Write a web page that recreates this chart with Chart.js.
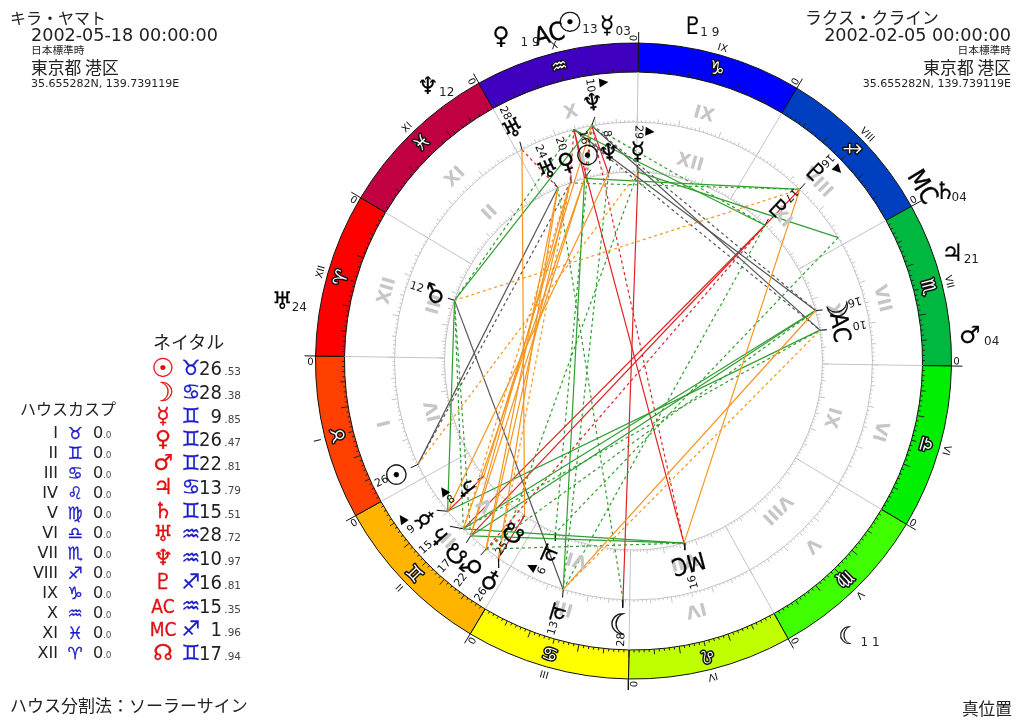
<!DOCTYPE html>
<html lang="ja">
<head>
<meta charset="utf-8">
<title>ホロスコープ</title>
<script src="https://cdn.jsdelivr.net/npm/chart.js@4"></script>
<style>
  html, body { margin: 0; padding: 0; background: #fff; }
  #page { position: relative; width: 1024px; height: 723px; overflow: hidden; }
  canvas { position: absolute; left: 0; top: 0; }
  .t { position: absolute; white-space: pre; line-height: 1; color: #222; font-family: "DejaVu Sans", sans-serif; transform: translateY(-50%); }
  .jp { font-family: "Noto Sans CJK JP", sans-serif; }
</style>
</head>
<body>
<div id="page">
  <canvas id="ringChart" width="1024" height="723"></canvas>
  <canvas id="wheelChart" width="1024" height="723"></canvas>
</div>
<script>
// 星座
const signGlyphs = ['♈','♉','♊','♋','♌','♍','♎','♏','♐','♑','♒','♓'];
const signColors = ['#ff0000','#ff4000','#ffb400','#ffff00','#bfff00','#40ff00','#00ee00','#00b840','#0040c0','#0000ff','#4000c0','#c00040'];
const signSpan = [30,30,30,30,30,30,30,30,30,30,30,30];
const houseNames = ['I','II','III','IV','V','VI','VII','VIII','IX','X','XI','XII'];

// ネイタル (キラ・ヤマト)
const pointKeys = ['Su','Mo','Me','Ve','Ma','Ju','Sa','Ur','Ne','Pl','AC','MC','No'];
const pointGlyphs = ['☉','☽','☿','♀','♂','♃','♄','♅','♆','♇','AC','MC','☊'];
const natalSign = [1,3,2,2,2,3,2,10,10,8,10,8,2];
const natalDeg = [26.53,28.38,9.85,26.47,22.81,13.79,15.51,28.72,10.97,16.81,15.35,1.96,17.94];
// 重なり回避後の表示位置 (AC, MC は外側)
const natalShown = [56.5,118.4,68.1,87.8,82.7,104.2,72.9,328.3,309.9,256.9,null,null,78.3];
const natalRetro = ['Me','Ne','Pl'];

// ラクス・クライン
const partnerLon = [315.9,226.4,299.5,320.5,12.2,96.5,68.5,324.5,308.5,256.8,220.3,136.4,85.7];
const partnerShown = [313.5,226,299.7,319.5,12.2,97.4,68.2,324.9,307.6,257.4,220.1,136.1,85.9];
const partnerLabel = [16,16,29,20,12,6,8,24,8,17,10,16,25];
const partnerRetro = ['Me','Ju','Sa'];

// 一番外側の天体
const outerGlyphs = ['♀','☉','☿','♇','♄','♃','♂','☾','♅','♆'];
const outerShown = [323.2,311.6,305.4,290.8,239.2,229.3,215,158.8,21.5,337.9];
const outerLabel = ['1 9','13','03','1 9','04','21','04','1 1','24','12'];

// アスペクト [ネイタル, 相手, 広いオーブなら1]
const trines = [['Su','Me',1],['Me','Ne',0],['Ve','Ve',1],['Ve','Ur',0],['Ma','Ve',0],['Ma','Ur',0],['Ju','Mo',0],['Ju','AC',1],['Sa','Su',0],['Sa','Ve',1],['Ur','No',0],['Ne','Sa',0],['Pl','Ma',1],['Pl','MC',0],['No','Su',0],['No','Ve',0]];
const sextiles = [['Me','Ma',0],['Me','AC',0],['Ve','Me',1],['Ma','Mo',1],['Ma','MC',1],['Mo','Ur',1],['Ju','Su',0],['Ju','Ne',1],['Ju','Pl',1],['Sa','Mo',0],['Sa','Ma',1],['Sa','AC',1],['Sa','MC',0],['Ne','Ma',0],['Ne','Ju',1],['Ne','Pl',1],['Pl','Su',0],['Pl','Ve',1],['AC','Ma',1],['AC','Pl',0],['MC','Me',0],['MC','Ju',1],['No','Mo',0],['No','Ma',1],['No','MC',0]];
const squares = [['Su','Ve',1],['Su','Ur',0],['Ju','Ma',0],['Ne','Mo',1],['Ne','AC',0],['AC','Mo',0],['AC','AC',1]];
const oppositions = [['Mo','Me',0],['Me','Sa',0],['Ve','No',0],['Ma','No',1],['Ma','Pl',1],['Sa','Pl',0],['Ur','Ur',1],['Ne','Su',1],['Ne','Ne',0],['Ne','MC',1],['Pl','Pl',0],['AC','Su',0],['AC','Ve',1],['AC','MC',0],['No','Pl',0]];

// ハウスカスプ表
const cuspSign = [1,2,3,4,5,6,7,8,9,10,11,0];

// ここから描画
const lonOffset = 149.1;
const natalInner = 239, partnerInner = 189, ringInner = 289;
const narrowFont = '"Liberation Sans Narrow", "DejaVu Sans Condensed"';

function polar(lon, r) {
  const a = (lon + lonOffset) * Math.PI / 180;
  return { x: r * Math.cos(a), y: r * Math.sin(a) };
}
const natalLon = natalSign.map((s, i) => s * 30 + natalDeg[i]);
const at = key => pointKeys.indexOf(key);
const ringOrder = [9,8,7,6,5,4,3,2,1,0,11,10];

// 外周リング
new Chart(document.getElementById('ringChart'), {
  type: 'doughnut',
  data: {
    labels: ringOrder.map(i => signGlyphs[i]),
    datasets: [{
      data: ringOrder.map(i => signSpan[i]),
      backgroundColor: ringOrder.map(i => signColors[i]),
      borderColor: '#111',
      borderWidth: 1
    }]
  },
  options: {
    responsive: false,
    animation: false,
    rotation: 90 - (300 + lonOffset - 360),
    cutout: ringInner,
    layout: { padding: { left: 315, right: 72, top: 42.5, bottom: 43.5 } },
    plugins: { legend: { display: false }, tooltip: { enabled: false } }
  }
});

// 線のデータセット
function aspectSets(list, color) {
  return list.map(([a, b, wide]) => ({
    data: [polar(natalLon[at(a)], natalInner), polar(partnerLon[at(b)], partnerInner)],
    borderColor: color,
    borderWidth: 1.2,
    borderDash: wide ? [3, 3] : [],
    showLine: true,
    pointRadius: 0
  }));
}
function segment(p, q, color) {
  return { data: [p, q], borderColor: color, borderWidth: 1, showLine: true, pointRadius: 0 };
}
const datasets = [
  ...aspectSets(trines, '#f7941d'),
  ...aspectSets(sextiles, '#2f9e2f'),
  ...aspectSets(squares, '#555555'),
  ...aspectSets(oppositions, '#e02222')
];
// 天体への引き出し線
natalShown.forEach((s, i) => {
  if (s !== null) datasets.push(segment(polar(natalLon[i], natalInner), polar(s, 247), '#111'));
});
partnerShown.forEach((s, i) => {
  datasets.push(segment(polar(partnerLon[i], partnerInner), polar(s, 196), '#111'));
});
// 0度の区切り
signSpan.forEach((_, i) => {
  datasets.push(segment(polar(i * 30, partnerInner), polar(i * 30, ringInner), '#c4c4c4'));
  datasets.push(segment(polar(i * 30, 318), polar(i * 30, 329), '#111'));
});

const wheelPlugin = {
  id: 'wheel',
  beforeDatasetsDraw(chart) {
    const { ctx, scales: { x, y } } = chart;
    const cx = x.getPixelForValue(0), cy = y.getPixelForValue(0);
    ctx.save();
    ctx.strokeStyle = '#c4c4c4';
    ctx.lineWidth = 1;
    [natalInner, partnerInner].forEach(r => {
      ctx.beginPath();
      ctx.arc(cx, cy, r, 0, Math.PI * 2);
      ctx.stroke();
      for (let d = 0; d < 360; d++) {
        const len = d % 10 === 0 ? 6 : d % 5 === 0 ? 4 : 2;
        const p = polar(d, r), q = polar(d, r + len);
        ctx.beginPath();
        ctx.moveTo(x.getPixelForValue(p.x), y.getPixelForValue(p.y));
        ctx.lineTo(x.getPixelForValue(q.x), y.getPixelForValue(q.y));
        ctx.stroke();
      }
    });
    // リング内側の目盛
    ctx.strokeStyle = '#222';
    for (let d = 0; d < 360; d++) {
      const len = d % 10 === 0 ? 7 : d % 5 === 0 ? 5 : 2.5;
      const p = polar(d, ringInner), q = polar(d, ringInner + len);
      ctx.beginPath();
      ctx.moveTo(x.getPixelForValue(p.x), y.getPixelForValue(p.y));
      ctx.lineTo(x.getPixelForValue(q.x), y.getPixelForValue(q.y));
      ctx.stroke();
    }
    ctx.restore();
  },
  afterDatasetsDraw(chart) {
    const { ctx, scales: { x, y } } = chart;
    const inward = lon => (180 - (lon + lonOffset)) * Math.PI / 180;
    const outward = lon => (90 - (lon + lonOffset)) * Math.PI / 180;
    const put = (lon, r, text, font, color, rot, outline) => {
      const p = polar(lon, r);
      ctx.save();
      ctx.translate(x.getPixelForValue(p.x), y.getPixelForValue(p.y));
      ctx.rotate(rot);
      ctx.font = font;
      ctx.textAlign = 'center';
      ctx.textBaseline = 'middle';
      if (outline) {
        ctx.lineWidth = outline;
        ctx.lineJoin = 'round';
        ctx.strokeStyle = '#111';
        ctx.strokeText(text, 0, 0);
      }
      ctx.fillStyle = color;
      ctx.fillText(text, 0, 0);
      ctx.restore();
    };
    const glyphFont = g => {
      const size = g === '☉' ? 28 : g === '☽' ? 29 : 24;
      return size + 'px "DejaVu Sans"';
    };
    const numFont = '11px "DejaVu Sans"';

    signGlyphs.forEach((g, i) => {
      const mid = i * 30 + 15;
      put(mid, 256, houseNames[(i + 11) % 12], 'bold 18px "DejaVu Sans"', '#c6c6c6', outward(mid));
      // 内側の円のハウス番号 (水瓶座が第1ハウス)
      put(mid, 206, houseNames[(i + 2) % 12], 'bold 18px "DejaVu Sans"', '#c6c6c6', outward(mid));
      put(mid, 303, g, '18px "DejaVu Sans"', '#fff', outward(mid), 3);
      put(mid, 325, houseNames[(i + 11) % 12], '10px "DejaVu Sans"', '#111', outward(mid));
      put(i * 30 + 1.1, 323, '0', '10px "DejaVu Sans"', '#111', inward(i * 30));
    });

    // 天体を先に、度数と逆行マークはその上に
    natalShown.forEach((s, i) => {
      if (s !== null) put(s, 260, pointGlyphs[i], glyphFont(pointGlyphs[i]), '#000', outward(s), 0.3);
    });
    partnerShown.forEach((s, i) => {
      const isText = pointKeys[i] === 'AC' || pointKeys[i] === 'MC';
      put(s, 208, pointGlyphs[i], isText ? '24px ' + narrowFont : glyphFont(pointGlyphs[i]), '#000', outward(s), 0.3);
    });
    natalShown.forEach((s, i) => {
      if (s === null) return;
      put(s, 279, String(Math.floor(natalDeg[i])), numFont, '#111', inward(s));
      if (natalRetro.includes(pointKeys[i])) put(s - 2.9, 280, '▲', '12px "DejaVu Sans"', '#000', (180 - (s - 2.9 + lonOffset)) * Math.PI / 180);
    });
    partnerShown.forEach((s, i) => {
      put(s, 229, String(partnerLabel[i]), numFont, '#111', inward(s));
      if (partnerRetro.includes(pointKeys[i])) put(s - 2.9, 230, '▲', '12px "DejaVu Sans"', '#000', (180 - (s - 2.9 + lonOffset)) * Math.PI / 180);
    });

    // 外側に置く AC, MC はネイタルの度数の位置
    put(natalLon[at('AC')], 336, 'AC', '25px ' + narrowFont, '#000', outward(natalLon[at('AC')]), 0.4);
    put(natalLon[at('MC')], 336, 'MC', '25px ' + narrowFont, '#000', outward(natalLon[at('MC')]), 0.4);

    const outerGap = [29, 20, 16, 17, 14, 19, 22, 21, 17, 19];
    const outerRadius = [349, 342, 335, 338, 354, 336, 337, 351, 356, 342];
    outerGlyphs.forEach((g, i) => {
      put(outerShown[i], outerRadius[i], g, glyphFont(g), '#000', 0, 0.2);
      const p = polar(outerShown[i], outerRadius[i]);
      ctx.save();
      ctx.font = '12px "DejaVu Sans"';
      ctx.fillStyle = '#222';
      ctx.textAlign = 'center';
      ctx.textBaseline = 'middle';
      ctx.fillText(outerLabel[i], x.getPixelForValue(p.x) + outerGap[i], y.getPixelForValue(p.y) + 5);
      ctx.restore();
    });
  }
};

new Chart(document.getElementById('wheelChart'), {
  type: 'scatter',
  data: { datasets },
  options: {
    responsive: false,
    animation: false,
    layout: { padding: 0 },
    scales: {
      x: { type: 'linear', display: false, min: -633.5, max: 390.5 },
      y: { type: 'linear', display: false, min: -362, max: 361 }
    },
    plugins: { legend: { display: false }, tooltip: { enabled: false } }
  },
  plugins: [wheelPlugin]
});

// 周りの文字
const page = document.getElementById('page');
function label(text, x, y, size, opts = {}) {
  const el = document.createElement('div');
  el.className = 't' + (opts.jp ? ' jp' : '');
  el.textContent = text;
  el.style.top = y + 'px';
  el.style.fontSize = size + 'px';
  if (opts.right) el.style.right = (1024 - x) + 'px';
  else if (opts.center) { el.style.left = x + 'px'; el.style.transform = 'translate(-50%,-50%)'; }
  else el.style.left = x + 'px';
  if (opts.color) el.style.color = opts.color;
  if (opts.family) el.style.fontFamily = opts.family;
  if (opts.stroke) el.style.webkitTextStroke = opts.stroke + 'px';
  page.appendChild(el);
}
label('キラ・ヤマト', 10, 17, 16, { jp: true });
label('2002-05-18 00:00:00', 31, 36, 17.6);
label('日本標準時', 31, 50, 10.7, { jp: true });
label('東京都 港区', 31, 67, 16.8, { jp: true });
label('35.655282N, 139.739119E', 31, 83, 11);
label('ラクス・クライン', 805, 17, 16.8, { jp: true });
label('2002-02-05 00:00:00', 1011, 36, 17.6, { right: true });
label('日本標準時', 1011, 50, 10.7, { jp: true, right: true });
label('東京都 港区', 1011, 67, 16.8, { jp: true, right: true });
label('35.655282N, 139.739119E', 1011, 83, 11, { right: true });
label('ハウス分割法：ソーラーサイン', 10, 704, 17, { jp: true });
label('真位置', 1012, 708, 16.7, { jp: true, right: true });

label('ハウスカスプ', 20, 408, 16, { jp: true });
houseNames.forEach((h, i) => {
  const rowY = 433 + i * 20;
  label(h, 58, rowY, 16, { right: true });
  label(signGlyphs[cuspSign[i]], 75, rowY, 17, { center: true, color: '#1a1acc', stroke: 0.3 });
  label('0', 93, rowY, 16);
  label('.0', 103, rowY + 2, 9, { color: '#555' });
});

label('ネイタル', 153, 341, 18, { jp: true });
pointGlyphs.forEach((g, i) => {
  const rowY = 368 + i * 23.75;
  const isText = g === 'AC' || g === 'MC';
  const size = isText ? 19 : g === '☉' ? 26 : g === '☽' ? 26 : 22;
  label(g, 163, rowY, size, { center: true, color: '#e01010', family: isText ? narrowFont : undefined, stroke: 0.3 });
  label(signGlyphs[natalSign[i]], 191, rowY, 21, { center: true, color: '#1a1acc', stroke: 0.3 });
  const [whole, frac] = natalDeg[i].toFixed(2).split('.');
  label(whole, 222, rowY, 20, { right: true, family: '"DejaVu Sans Condensed"' });
  label('.' + frac, 241, rowY + 3, 10.5, { right: true, color: '#444' });
});
</script>
</body>
</html>
